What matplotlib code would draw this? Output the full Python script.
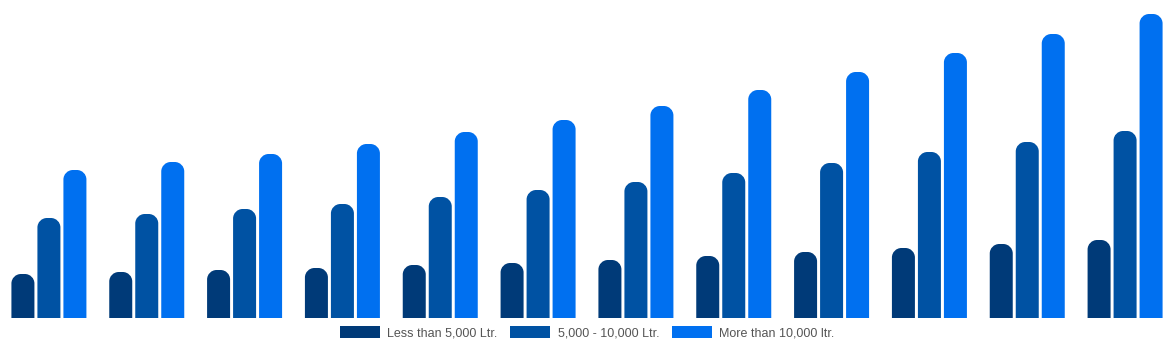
import matplotlib
matplotlib.use("Agg")
import matplotlib.pyplot as plt
from matplotlib.patches import PathPatch, Patch
from matplotlib.path import Path
import numpy as np

plt.rcParams['font.family'] = ['Liberation Sans', 'DejaVu Sans']

# Values (no axis shown, so in pixel-ish units)
groups = list(range(12))
less_5000 = [44, 46, 48, 50, 53, 55, 58, 62, 66, 70, 74, 78]
mid_5000_10000 = [100, 104, 109, 114, 121, 128, 136, 145, 155, 166, 176, 187]
more_10000 = [148, 156, 164, 174, 186, 198, 212, 228, 246, 265, 284, 304]

series = [less_5000, mid_5000_10000, more_10000]
labels = ['Less than 5,000 Ltr.', '5,000 - 10,000 Ltr.', 'More than 10,000 ltr.']
colors = ['#003a78', '#0052a3', '#0070f0']

fig = plt.figure(figsize=(11.74, 3.5), dpi=100)
ax = fig.add_axes([0, 32 / 350, 1, 318 / 350])
ax.set_xlim(-0.5, 11.5)
ax.set_ylim(0, 318)
ax.axis('off')

px_per_x = 1174 / 12.0
width = 23 / px_per_x
step = 26 / px_per_x
rpx = 9.5
rx = rpx / px_per_x
ry = rpx
k = 0.5523


def top_rounded(x0, w, h):
    # bar with only the top corners rounded (circular-ish arcs)
    x1 = x0 + w
    verts = [(x0, 0), (x0, h - ry),
             (x0, h - ry + k * ry), (x0 + rx - k * rx, h), (x0 + rx, h),
             (x1 - rx, h),
             (x1 - rx + k * rx, h), (x1, h - ry + k * ry), (x1, h - ry),
             (x1, 0), (x0, 0)]
    codes = [Path.MOVETO, Path.LINETO,
             Path.CURVE4, Path.CURVE4, Path.CURVE4,
             Path.LINETO,
             Path.CURVE4, Path.CURVE4, Path.CURVE4,
             Path.LINETO, Path.CLOSEPOLY]
    return Path(verts, codes)


x = np.arange(len(groups))
for i, (vals, c) in enumerate(zip(series, colors)):
    xs = x + (i - 1) * step
    for xc, v in zip(xs, vals):
        ax.add_patch(PathPatch(top_rounded(xc - width / 2, width, v),
                               fc=c, ec='none'))

handles = [Patch(fc=c, ec='none') for c in colors]
fig.legend(handles, labels, loc='center', bbox_to_anchor=(0.5, 17 / 350),
           ncol=3, frameon=False, fontsize=9, labelcolor='#555555',
           handlelength=3.2, handleheight=1.1, handletextpad=0.6,
           columnspacing=1.0)

fig.savefig('out.png', dpi=100)
